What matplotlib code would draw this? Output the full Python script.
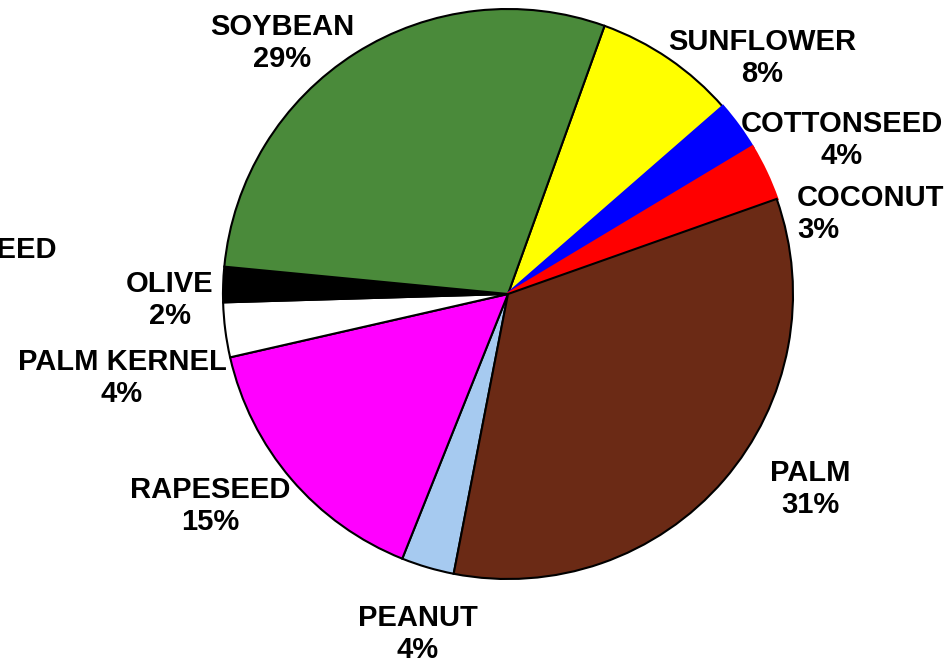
import matplotlib
matplotlib.use("Agg")
import matplotlib.pyplot as plt

# slice shares as drawn (clockwise from the soybean/sunflower edge)
crops = ["SUNFLOWER", "COTTONSEED", "COCONUT", "PALM", "PEANUT",
         "RAPESEED", "PALM KERNEL", "OLIVE", "SOYBEAN"]
shares = [8.1, 2.8, 3.2, 33.5, 3.0, 15.4, 3.1, 2.0, 29.0]
pct_labels = ["8%", "4%", "3%", "31%", "4%", "15%", "4%", "2%", "29%"]
colors = ["#FFFF00", "#0000FF", "#FF0000", "#6B2A15", "#A6CAF0",
          "#FF00FF", "#FFFFFF", "#000000", "#4A8A3A"]
cut_label = "LINSEED"

W, H = 949, 665
fig = plt.figure(figsize=(W / 100, H / 100), dpi=100)
ax = fig.add_axes([0, 0, 1, 1])

wedges, _ = ax.pie(shares, colors=colors, startangle=70.2, counterclock=False,
                   center=(508, H - 294), radius=285, frame=True,
                   wedgeprops=dict(edgecolor="black", linewidth=1.5))
ax.set_xlim(0, W)
ax.set_ylim(0, H)
ax.set_aspect("equal")
ax.axis("off")
# blue and red slices have no black outline
for i in (1, 2):
    wedges[i].set_edgecolor(colors[i])
    wedges[i].set_linewidth(2.5)
    wedges[i].set_zorder(wedges[i].get_zorder() + 0.1)
wedges[3].set_zorder(wedges[3].get_zorder() + 0.2)

# label positions (pixel coords from top-left)
label_pos = [(762, 58, "center"), (842, 140, "center"), (797, 214, "left"),
             (810, 489, "center"), (418, 634, "center"), (210, 506, "center"),
             (122, 378, "center"), (170, 300, "center"), (282, 43, "center")]

font = dict(family=["Liberation Sans", "DejaVu Sans"], fontsize=21,
            fontweight="bold", color="black")
for crop, pct, (x, y, ha) in zip(crops, pct_labels, label_pos):
    ax.text(x, H - y, crop + "\n" + pct, ha=ha, va="center",
            multialignment=ha, linespacing=1.2, **font)

# label of the slice that is cut off at the left edge in the original
ax.text(56, H - 250, cut_label, ha="right", va="center", **font)

fig.savefig("out.png", dpi=100)
